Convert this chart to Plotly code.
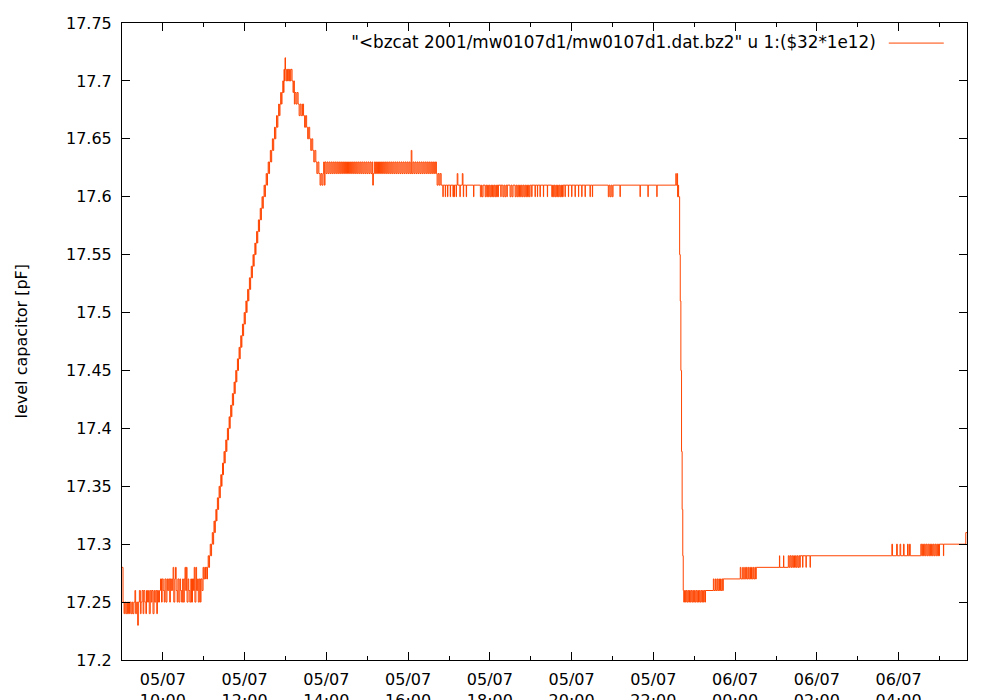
import pandas as pd
import plotly.graph_objects as go

# ---------------- data ----------------
start_time = "2001-07-05 09:00"          # first sample; times below are minutes after it
series_name = '"<bzcat 2001/mw0107d1/mw0107d1.dat.bz2" u 1:($32*1e12)'
y_title = "level capacitor [pF]"
y_tick_values = [17.2, 17.25, 17.3, 17.35, 17.4, 17.45, 17.5, 17.55, 17.6, 17.65, 17.7, 17.75]
y_tick_labels = ["17.2", "17.25", "17.3", "17.35", "17.4", "17.45", "17.5", "17.55",
                 "17.6", "17.65", "17.7", "17.75"]
x_tick_format = "%d/%m<br>%H:%M"
x_first_tick = "2001-07-05 10:00"

# (minute after start, capacitance pF)
warmup = [
    (0, 17.28), (1.5, 17.25), (3, 17.24), (4, 17.25), (5.5, 17.24), (7, 17.25), (8, 17.24),
    (9.5, 17.25), (11, 17.24), (12, 17.25), (13.5, 17.24), (15, 17.25), (16, 17.24),
    (17.5, 17.25), (19, 17.26), (20, 17.24), (21.5, 17.25), (23, 17.23), (24, 17.25),
    (25.5, 17.26), (27, 17.24), (28, 17.25), (29.5, 17.26), (31, 17.24), (32, 17.26),
    (33.5, 17.25), (35, 17.24), (36, 17.26), (37.5, 17.25), (39, 17.26), (40, 17.24),
    (41.5, 17.26), (43, 17.25), (44, 17.26), (45.5, 17.24), (47, 17.26), (48, 17.25),
    (49.5, 17.26), (51, 17.24), (52, 17.26), (53.5, 17.25), (55, 17.26),
    (56.5, 17.27), (58, 17.25), (59, 17.27), (60.5, 17.26), (62, 17.25), (63, 17.27),
    (64.5, 17.25), (66, 17.27), (67, 17.26), (68.5, 17.27), (70, 17.25), (71, 17.27),
    (72.5, 17.26), (74, 17.27),
    (75, 17.28), (76, 17.25), (77.5, 17.27), (78.5, 17.28), (79.5, 17.26), (81, 17.25),
    (82, 17.27), (83.5, 17.25), (85, 17.27), (86, 17.26), (87.5, 17.25), (89, 17.27),
    (90, 17.25), (91.5, 17.27), (92.5, 17.28), (93.5, 17.26), (94.5, 17.28), (95.5, 17.25),
    (97, 17.27), (98, 17.26), (99.5, 17.25), (101, 17.27), (102, 17.25), (103.5, 17.27),
    (105, 17.26), (106, 17.28), (107, 17.25), (108.5, 17.28), (109.5, 17.26), (111, 17.27),
    (112, 17.25), (113.5, 17.27), (115, 17.25), (116, 17.27), (117.5, 17.26), (119, 17.28),
    (120, 17.27), (121.5, 17.28), (122.5, 17.27),
]

ramp = [
    (123, 17.28), (124.5, 17.27), (125.5, 17.28), (126.5, 17.29), (127.5, 17.28), (128.5, 17.29),
    (129.5, 17.30), (130.5, 17.29), (131.5, 17.30), (132.5, 17.31), (133.5, 17.30), (134.5, 17.31),
    (135, 17.32), (136, 17.31), (137, 17.32), (137.8, 17.33), (138.6, 17.32), (139.4, 17.33),
    (140, 17.34), (141, 17.33), (141.8, 17.34), (142.5, 17.35), (143.5, 17.34), (144.3, 17.35),
    (145, 17.36), (146, 17.35), (146.8, 17.36), (147.5, 17.37), (148.3, 17.36), (149, 17.37),
    (149.7, 17.38), (150.7, 17.37), (151.5, 17.38), (152.3, 17.39), (153.2, 17.38), (154, 17.39),
    (154.7, 17.40), (155.6, 17.39), (156.4, 17.40), (157.2, 17.41), (158, 17.40), (158.8, 17.41),
    (159.5, 17.42), (160.5, 17.41), (161.3, 17.42), (162, 17.43), (163, 17.42), (163.8, 17.43),
    (164.5, 17.44), (165.4, 17.43), (166.2, 17.44), (167, 17.45), (167.8, 17.44), (168.6, 17.45),
    (169.4, 17.46), (170.3, 17.45), (171, 17.46), (171.8, 17.47), (172.7, 17.46), (173.5, 17.47),
    (174.3, 17.48), (175.2, 17.47), (176, 17.48), (176.8, 17.49), (177.7, 17.48), (178.5, 17.49),
    (179.3, 17.50), (180.2, 17.49), (181, 17.50), (181.8, 17.51), (182.8, 17.50), (183.6, 17.51),
    (184.4, 17.52), (185.4, 17.51), (186.2, 17.52), (187, 17.53), (188, 17.52), (188.8, 17.53),
    (189.7, 17.54), (190.6, 17.53), (191.4, 17.54), (192.3, 17.55), (193.2, 17.54), (194, 17.55),
    (195, 17.56), (195.9, 17.55), (196.7, 17.56), (197.6, 17.57), (198.5, 17.56), (199.3, 17.57),
    (200.2, 17.58), (201.1, 17.57), (201.9, 17.58), (202.9, 17.59), (203.8, 17.58), (204.6, 17.59),
    (205.5, 17.60), (206.5, 17.59), (207.4, 17.60), (208.5, 17.61), (209.5, 17.60), (210.5, 17.61),
    (211.6, 17.62), (212.6, 17.61), (213.6, 17.62), (214.6, 17.63), (215.6, 17.62), (216.6, 17.63),
    (217.7, 17.64), (218.7, 17.63), (219.7, 17.64), (220.7, 17.65), (221.7, 17.64), (222.7, 17.65),
    (223.8, 17.66), (224.8, 17.65), (225.8, 17.66), (226.8, 17.67), (227.8, 17.66), (228.8, 17.67),
    (229.9, 17.68), (230.9, 17.67), (231.9, 17.68), (232.9, 17.69), (233.9, 17.68), (234.9, 17.69),
    (236, 17.70), (237, 17.69), (237.8, 17.71), (238.5, 17.70), (239.3, 17.72), (240, 17.71),
    (241, 17.70), (242, 17.71), (243, 17.70), (244, 17.71), (245, 17.70), (246, 17.71),
    (247, 17.70), (248, 17.71), (249.6, 17.70),
]

descent = [
    (250, 17.70), (251, 17.69), (252, 17.70), (253, 17.68), (254, 17.69), (255.5, 17.68),
    (257, 17.69), (258.5, 17.68), (260, 17.67), (261.5, 17.68), (263, 17.67), (265, 17.68),
    (266.5, 17.67), (268, 17.66), (269.5, 17.67), (271, 17.66), (272.5, 17.65), (274, 17.66),
    (275.5, 17.65), (277, 17.64), (278.5, 17.65), (280, 17.64), (281.5, 17.63), (283, 17.64),
    (284.5, 17.63), (286, 17.62), (287.5, 17.63), (289, 17.62), (290.7, 17.61), (292, 17.62),
    (293.5, 17.61), (295, 17.62),
]

plateau_high = [
    (296, 17.63), (297, 17.61), (298, 17.63), (299.5, 17.62), (301, 17.63), (302.5, 17.62),
    (304, 17.63), (305.5, 17.62), (307, 17.63), (308.5, 17.62), (310, 17.63), (311.5, 17.62),
    (313, 17.63), (314.5, 17.62), (316, 17.63), (317.5, 17.62), (319, 17.63), (320.5, 17.62),
    (322, 17.63), (323.5, 17.62), (325, 17.63), (326.5, 17.62), (328, 17.63), (329.5, 17.62),
    (331, 17.63), (332.5, 17.62), (334, 17.63), (335.5, 17.62), (337, 17.63), (338.5, 17.62),
    (340, 17.63), (341.5, 17.62), (343, 17.63), (344.5, 17.62), (346, 17.63), (347.5, 17.62),
    (349, 17.63), (350.5, 17.62), (352, 17.63), (353.5, 17.62), (355, 17.63), (356.5, 17.62),
    (358, 17.63), (359.5, 17.62), (361, 17.63), (362.5, 17.62), (364, 17.63), (365.5, 17.62),
    (367, 17.63), (368, 17.61), (369, 17.62), (370.5, 17.63), (372, 17.62), (373.5, 17.63),
    (375, 17.62), (376.5, 17.63), (378, 17.62), (379.5, 17.63), (381, 17.62), (382.5, 17.63),
    (384, 17.62), (385.5, 17.63), (387, 17.62), (388.5, 17.63), (390, 17.62), (391.5, 17.63),
    (393, 17.62), (394.5, 17.63), (396, 17.62), (397.5, 17.63), (399, 17.62), (400.5, 17.63),
    (402, 17.62), (403.5, 17.63), (405, 17.62), (406.5, 17.63), (408, 17.62), (409.5, 17.63),
    (411, 17.62), (412.5, 17.63), (414, 17.62), (415.5, 17.63), (417, 17.62), (418.5, 17.63),
    (420, 17.62), (421.5, 17.63), (423, 17.62), (424.5, 17.64), (425.5, 17.62), (427, 17.63),
    (428.5, 17.62), (430, 17.63), (431.5, 17.62), (433, 17.63), (434.5, 17.62), (436, 17.63),
    (437.5, 17.62), (439, 17.63), (440.5, 17.62), (442, 17.63), (443.5, 17.62), (445, 17.63),
    (446.5, 17.62), (448, 17.63), (449.5, 17.62), (451, 17.63), (452.5, 17.62), (454, 17.63),
    (455.5, 17.62), (457, 17.63), (458.5, 17.62), (460, 17.63), (461.5, 17.62),
]

plateau_low = [
    (462.5, 17.61), (464, 17.62), (465.5, 17.61), (467, 17.62), (468.5, 17.61), (470.5, 17.61),
    (471, 17.60), (471.5, 17.61), (474, 17.61), (474.5, 17.60), (475, 17.61), (477.3, 17.61),
    (477.8, 17.60), (478.3, 17.61), (481.3, 17.61), (481.8, 17.60), (482.3, 17.61), (485.3, 17.61),
    (485.8, 17.60), (486.5, 17.61), (487.5, 17.60), (488, 17.61), (490, 17.61), (490.5, 17.60),
    (491, 17.61), (492, 17.62), (493, 17.61), (496, 17.60), (496.5, 17.61), (499.5, 17.62),
    (500.5, 17.61), (501, 17.60), (501.5, 17.61), (504.8, 17.61), (505.3, 17.60), (505.8, 17.61),
    (515.5, 17.61), (516, 17.60), (516.5, 17.61), (525.5, 17.61), (526, 17.60), (527.5, 17.61),
    (528.5, 17.60), (530, 17.61),
    (533, 17.60), (534.2, 17.61), (535.4, 17.60), (536.6, 17.61), (537.8, 17.60), (539, 17.61),
    (540.2, 17.60), (541.4, 17.61), (542.6, 17.60), (543.8, 17.61), (545, 17.60), (546.2, 17.61),
    (547.4, 17.60), (548.6, 17.61), (549.8, 17.60), (551, 17.61), (552, 17.60), (552.5, 17.61),
    (555.5, 17.61), (556, 17.60), (556.5, 17.61), (559, 17.60), (560.5, 17.61), (562, 17.60),
    (563.5, 17.61), (565, 17.60), (565.5, 17.61), (569.6, 17.60), (571, 17.61), (572.5, 17.60),
    (574, 17.61),
    (577, 17.60), (578.3, 17.61), (579.6, 17.60), (580.9, 17.61), (582.2, 17.60), (583.5, 17.61),
    (584.8, 17.60), (586.1, 17.61), (587.4, 17.60), (588.7, 17.61), (590, 17.60), (591.3, 17.61),
    (592.6, 17.60), (593.9, 17.61), (595.2, 17.60), (596.5, 17.61), (597.8, 17.60), (599, 17.61),
    (601, 17.61), (601.4, 17.60), (601.8, 17.61), (606, 17.61), (606.3, 17.60), (606.7, 17.61),
    (609.4, 17.61), (609.7, 17.60), (610.1, 17.61), (613.3, 17.61), (613.6, 17.60), (614, 17.61),
    (618.2, 17.61), (618.5, 17.60), (618.9, 17.61), (624, 17.61), (624.3, 17.60), (624.7, 17.61),
    (630.8, 17.60), (632, 17.61), (633.2, 17.60), (634.4, 17.61), (635.6, 17.60), (636.8, 17.61),
    (638, 17.60), (639.2, 17.61), (640.4, 17.60), (641.6, 17.61), (642.8, 17.60), (644, 17.61),
    (645.2, 17.60), (646.4, 17.61), (647, 17.60), (647.5, 17.61),
    (650, 17.61), (650.3, 17.60), (650.7, 17.61), (654.9, 17.61), (655.2, 17.60), (655.6, 17.61),
    (659.7, 17.61), (660, 17.60), (660.4, 17.61), (664.7, 17.61), (665, 17.60), (665.4, 17.61),
    (669.7, 17.61), (670, 17.60), (670.4, 17.61), (674.5, 17.61), (674.8, 17.60), (675.2, 17.61),
    (679.4, 17.61), (679.7, 17.60), (680.1, 17.61), (686.7, 17.61), (687, 17.60), (687.4, 17.61),
    (690.1, 17.61), (690.4, 17.60), (690.8, 17.61),
    (713.4, 17.61), (713.8, 17.60), (715, 17.61), (716.5, 17.60), (718, 17.61), (719.5, 17.60),
    (720.8, 17.61), (730.7, 17.61), (731, 17.60), (731.4, 17.61), (760.1, 17.61), (760.4, 17.60),
    (760.8, 17.61), (771.7, 17.61), (772, 17.60), (772.4, 17.61), (784.7, 17.61), (785, 17.60),
    (785.4, 17.61),
    (812.5, 17.61), (813, 17.62), (813.5, 17.61), (815, 17.62), (815.5, 17.60), (816.5, 17.61),
    (817, 17.60), (817.7, 17.60),
]

sudden_drop = [
    (818.5, 17.55), (819.4, 17.51), (820.3, 17.45), (821.3, 17.38), (822.2, 17.33),
    (823.1, 17.29), (823.8, 17.26),
]

recovery = [
    (824.5, 17.25), (825.7, 17.26), (827, 17.25), (828.2, 17.26), (829.4, 17.25), (830.6, 17.26),
    (831.8, 17.25), (833, 17.26), (834.2, 17.25), (835.4, 17.26), (836.6, 17.25), (837.8, 17.26),
    (839, 17.25), (840.2, 17.26), (841.4, 17.25), (842.6, 17.26), (843.8, 17.25), (845, 17.26),
    (846.2, 17.25), (847.4, 17.26), (848.6, 17.25), (849.8, 17.26), (851, 17.25), (852.2, 17.26),
    (853.4, 17.25), (854.6, 17.26), (855.8, 17.25), (856.5, 17.26),
    (867.6, 17.26), (868, 17.27), (869, 17.26), (871, 17.27), (872, 17.26), (873.5, 17.27),
    (874.5, 17.26), (876, 17.27), (877, 17.26), (878.5, 17.27), (879.5, 17.26), (881, 17.27),
    (882, 17.26), (882.5, 17.27),
    (907, 17.27), (907.5, 17.28), (908.5, 17.27), (911, 17.28), (912, 17.27), (914, 17.28),
    (915, 17.27), (916.5, 17.28), (917.5, 17.27), (919, 17.28), (920, 17.27), (921.5, 17.28),
    (922.5, 17.27), (924, 17.28), (925, 17.27), (926.5, 17.28), (927.5, 17.27), (929, 17.28),
    (930, 17.27), (931, 17.28),
    (964.7, 17.28), (965, 17.29), (965.4, 17.28), (970.7, 17.28), (971, 17.29), (971.4, 17.28),
    (978, 17.29), (979.3, 17.28), (980.6, 17.29), (981.9, 17.28), (983.2, 17.29), (984.5, 17.28),
    (985.8, 17.29), (987.1, 17.28), (988.4, 17.29), (989.7, 17.28), (991, 17.29), (992.3, 17.28),
    (993.6, 17.29), (994.9, 17.28), (995.5, 17.29), (998.7, 17.29), (999, 17.28), (999.4, 17.29),
    (1003.7, 17.29), (1004, 17.28), (1004.4, 17.29), (1009.7, 17.29), (1010, 17.28), (1010.4, 17.29),
    (1129.5, 17.29), (1130, 17.30), (1131, 17.29), (1136.5, 17.29), (1137, 17.30), (1138, 17.29),
    (1141.5, 17.29), (1142, 17.30), (1143, 17.29), (1146.5, 17.29), (1147, 17.30), (1148, 17.29),
    (1152.5, 17.29), (1153, 17.30), (1154, 17.29), (1155.5, 17.29), (1156, 17.30), (1157, 17.29),
    (1172.5, 17.30), (1173.8, 17.29), (1175.1, 17.30), (1176.4, 17.29), (1177.7, 17.30),
    (1179, 17.29), (1180.3, 17.30), (1181.6, 17.29), (1182.9, 17.30), (1184.2, 17.29),
    (1185.5, 17.30), (1186.8, 17.29), (1188.1, 17.30), (1189.4, 17.29), (1190.7, 17.30),
    (1192, 17.29), (1193.3, 17.30), (1194.6, 17.29), (1195.9, 17.30), (1197.2, 17.29),
    (1198.5, 17.30), (1199.5, 17.29), (1200, 17.30),
    (1205.4, 17.30), (1205.7, 17.29), (1206.1, 17.30), (1237.5, 17.30), (1238.5, 17.31),
    (1240.3, 17.31),
]

# ---------------- build figure ----------------
samples = sorted(warmup + ramp + descent + plateau_high + plateau_low + sudden_drop + recovery,
                 key=lambda p: p[0])
minutes = [m for m, _ in samples]
capacitance = [v for _, v in samples]
times = pd.Timestamp(start_time) + pd.to_timedelta(minutes, unit="min")

FONT = "DejaVu Sans"
LINE_COLOR = "#ff4500"

fig = go.Figure()
fig.add_trace(go.Scatter(
    x=times, y=capacitance, mode="lines", name="",
    line=dict(color=LINE_COLOR, width=1, shape="hv"), showlegend=True,
))

axis_common = dict(
    showline=True, linecolor="black", linewidth=1, mirror="ticks",
    ticks="inside", ticklen=8, tickwidth=1, tickcolor="black",
    showgrid=False, zeroline=False, automargin=False,
    tickfont=dict(family=FONT, size=16, color="black"),
)

fig.update_xaxes(
    **axis_common,
    type="date",
    range=[times[0], times[-1]],
    tick0=x_first_tick, dtick=2 * 3600 * 1000,
    tickformat=x_tick_format,
    ticklabelstandoff=5,
    minor=dict(ticks="inside", ticklen=4, tickwidth=1, tickcolor="black",
               dtick=3600 * 1000, tick0=x_first_tick, showgrid=False),
)
fig.update_yaxes(
    **axis_common,
    range=[17.2, 17.75],
    tickmode="array", tickvals=y_tick_values, ticktext=y_tick_labels,
    ticklabelstandoff=6,
)

fig.add_annotation(
    text=y_title, xref="paper", yref="paper", x=0, y=0.5,
    xanchor="center", yanchor="middle", xshift=-101, textangle=-90,
    showarrow=False, font=dict(family=FONT, size=16, color="black"),
)

fig.update_layout(
    width=1000, height=700,
    margin=dict(l=122, r=33, t=23, b=40, pad=0),
    paper_bgcolor="white", plot_bgcolor="white",
    font=dict(family=FONT, size=16, color="black"),
    legend=dict(
        x=0.985, xanchor="right", y=0.995, yanchor="top",
        bgcolor="rgba(0,0,0,0)", borderwidth=0,
        itemwidth=55,
        title=dict(text=series_name, side="left",
                   font=dict(family=FONT, size=16.8, color="black")),
        font=dict(family=FONT, size=16),
    ),
)

fig.write_html("out.html", config={"displayModeBar": False},
               post_script="document.body.style.margin='0';")
